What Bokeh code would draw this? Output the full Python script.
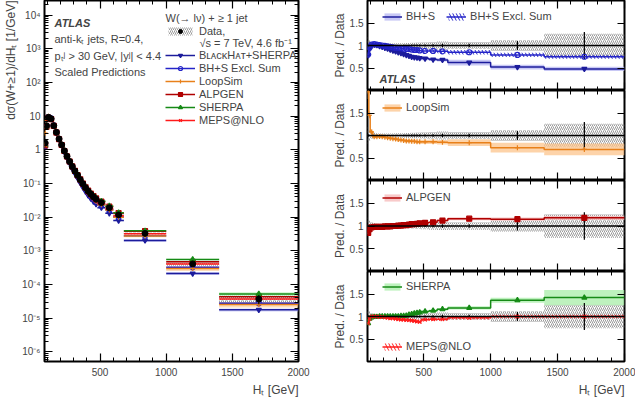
import numpy as np
from bokeh.plotting import figure
from bokeh.layouts import row, column
from bokeh.models import (Range1d, FixedTicker, CustomJSTickFormatter, LinearAxis,
                          LogAxis, Label, Legend, LegendItem, Span, Title)
from bokeh.embed import file_html
from bokeh.resources import INLINE

FONT = "Liberation Sans"

# ---------------- data ----------------
ht_edges = [80, 90, 100, 120, 140, 160, 180, 200, 220, 240, 260, 280, 300, 320, 340,
            360, 380, 400, 420, 440, 460, 480, 540, 600, 680, 1000, 1400, 2000]
data_xs = [1.6, 5.2, 9.2, 8.3, 5.2, 3.3, 2.1, 1.4, 0.93, 0.64, 0.45, 0.32, 0.235, 0.175,
           0.13, 0.098, 0.075, 0.059, 0.048, 0.040, 0.034, 0.027, 0.019, 0.0117,
           0.0033, 0.00041, 0.000037]
data_sys = [0.18, 0.12, 0.08, 0.06, 0.05, 0.045, 0.045, 0.045, 0.045, 0.045, 0.045,
            0.05, 0.05, 0.05, 0.05, 0.055, 0.055, 0.06, 0.06, 0.065, 0.065, 0.07,
            0.08, 0.09, 0.08, 0.12, 0.26]
data_stat = [0.03, 0.01, 0.01, 0.01, 0.01, 0.01, 0.01, 0.01, 0.01, 0.01, 0.01, 0.01,
             0.01, 0.01, 0.015, 0.015, 0.015, 0.02, 0.02, 0.02, 0.02, 0.02, 0.03,
             0.04, 0.04, 0.1, 0.3]

# prediction / data ratios and relative band widths
bhs = [0.78, 0.92, 1.00, 1.02, 1.01, 0.99, 0.97, 0.95, 0.93, 0.91, 0.89, 0.87, 0.85,
       0.83, 0.81, 0.79, 0.77, 0.75, 0.74, 0.73, 0.72, 0.71, 0.69, 0.68, 0.62, 0.52, 0.48]
bhs_unc = [0.06, 0.05, 0.04, 0.04, 0.04, 0.04, 0.04, 0.04, 0.04, 0.04, 0.045, 0.045,
           0.045, 0.045, 0.05, 0.05, 0.05, 0.05, 0.05, 0.05, 0.05, 0.05, 0.05, 0.05,
           0.1, 0.1, 0.1]
excl = [0.80, 0.95, 1.02, 1.03, 1.02, 1.01, 1.00, 0.99, 0.98, 0.97, 0.96, 0.95, 0.95,
        0.94, 0.93, 0.92, 0.92, 0.91, 0.90, 0.90, 0.89, 0.88, 0.88, 0.87, 0.85, 0.79, 0.75]
excl_unc = [0.06, 0.05, 0.05, 0.05, 0.05, 0.05, 0.05, 0.05, 0.05, 0.05, 0.05, 0.05,
            0.05, 0.05, 0.05, 0.05, 0.05, 0.05, 0.05, 0.05, 0.05, 0.05, 0.05, 0.05,
            0.06, 0.06, 0.06]
loop = [1.97, 1.45, 1.08, 0.97, 0.97, 0.98, 0.97, 0.96, 0.95, 0.94, 0.93, 0.92, 0.91,
        0.90, 0.89, 0.88, 0.88, 0.87, 0.87, 0.86, 0.86, 0.86, 0.86, 0.85, 0.84, 0.73, 0.69]
loop_unc = [0.08, 0.06, 0.05, 0.04, 0.04, 0.04, 0.04, 0.04, 0.04, 0.04, 0.04, 0.04,
            0.045, 0.045, 0.045, 0.045, 0.05, 0.05, 0.05, 0.05, 0.05, 0.055, 0.06, 0.06,
            0.09, 0.15, 0.19]
alp = [0.85, 0.93, 0.97, 0.98, 0.98, 0.98, 0.98, 0.99, 0.99, 0.99, 1.00, 1.00, 1.01,
       1.01, 1.02, 1.02, 1.03, 1.04, 1.04, 1.05, 1.06, 1.07, 1.08, 1.12, 1.16, 1.15, 1.18]
alp_unc = [0.04, 0.03, 0.02, 0.02, 0.02, 0.02, 0.02, 0.02, 0.02, 0.02, 0.02, 0.02,
           0.02, 0.02, 0.02, 0.02, 0.02, 0.02, 0.02, 0.02, 0.02, 0.02, 0.025, 0.025,
           0.03, 0.03, 0.04]
she = [0.85, 0.95, 0.98, 0.99, 0.99, 1.00, 1.00, 1.00, 1.00, 1.00, 1.00, 1.00, 1.00,
       1.01, 1.01, 1.02, 1.04, 1.05, 1.07, 1.08, 1.09, 1.11, 1.13, 1.16, 1.19, 1.36, 1.42]
she_unc = [0.03, 0.02, 0.02, 0.02, 0.02, 0.02, 0.02, 0.02, 0.02, 0.02, 0.02, 0.02,
           0.02, 0.02, 0.02, 0.02, 0.02, 0.02, 0.02, 0.02, 0.02, 0.02, 0.025, 0.025,
           0.03, 0.04, 0.12]
meps = [0.85, 0.95, 1.00, 1.00, 1.00, 0.99, 0.99, 0.98, 0.97, 0.96, 0.96, 0.95, 0.94,
        0.93, 0.93, 0.92, 0.92, 0.91, 0.90, 0.89, 0.88, 0.93, 0.94, 0.94, 0.97, 1.00, 1.00]
meps_unc = [0.05, 0.04, 0.04, 0.04, 0.04, 0.04, 0.04, 0.04, 0.04, 0.04, 0.04, 0.04,
            0.04, 0.04, 0.04, 0.04, 0.04, 0.04, 0.04, 0.04, 0.04, 0.04, 0.04, 0.04,
            0.04, 0.04, 0.04]

x_major = [500, 1000, 1500, 2000]
x_minor = list(range(100, 2001, 100))
ratio_ticks = [0.5, 1.0, 1.5]

# (left legend name, ratio-panel legend name, ratio, unc, colour, band colour, marker, band style)
models = [
    ("BʟᴀᴄᴋHᴀᴛ+SHERPA", "BH+S", bhs, bhs_unc, "#1c1c9c", "#b6b6f2", "inverted_triangle", "fill"),
    ("BH+S Excl. Sum", "BH+S Excl. Sum", excl, excl_unc, "#2424c8", "#2424c8", "circle", "hatch"),
    ("LoopSim", "LoopSim", loop, loop_unc, "#e8801a", "#fcc48c", "cross", "fill"),
    ("ALPGEN", "ALPGEN", alp, alp_unc, "#b00000", "#f6b8b8", "square", "fill"),
    ("SHERPA", "SHERPA", she, she_unc, "#168a16", "#a8eea8", "triangle", "fill"),
    ("MEPS@NLO", "MEPS@NLO", meps, meps_unc, "#ff1a1a", "#ff1a1a", "x", "hatch"),
]

lo = np.array(ht_edges[:-1], float)
hi = np.array(ht_edges[1:], float)
ctr = 0.5 * (lo + hi)
d = np.array(data_xs)
dsys = np.array(data_sys)
dstat = np.array(data_stat)

LOG_FMT = r"""
const e = Math.round(Math.log10(tick));
if (e == 0) return "1";
if (e == 1) return "10";
const m = {"-": "\u207b", "0": "\u2070", "1": "\u00b9", "2": "\u00b2", "3": "\u00b3",
           "4": "\u2074", "5": "\u2075", "6": "\u2076", "7": "\u2077", "8": "\u2078", "9": "\u2079"};
let s = "";
for (const c of String(e)) s += m[c];
return "10" + s;
"""
PLAIN_FMT = "return tick.toString();"
EMPTY_FMT = "return '';"
HATCH_GREY = "#808080"


def style_axis(ax, ticker, labels=True, fmt=PLAIN_FMT, minor=True, major_len=8,
               minor_len=4, standoff=4):
    ax.ticker = ticker
    ax.formatter = CustomJSTickFormatter(code=fmt if labels else EMPTY_FMT)
    ax.axis_line_color = None
    ax.major_tick_in = major_len
    ax.major_tick_out = 0
    ax.minor_tick_in = minor_len
    ax.minor_tick_out = 0
    ax.major_tick_line_width = 1.2
    ax.minor_tick_line_width = 1
    if not minor:
        ax.minor_tick_line_color = None
    ax.major_label_text_font = FONT
    if labels:
        ax.major_label_text_font_size = "10px"
        ax.major_label_standoff = standoff
    else:
        ax.major_label_text_font_size = "0px"
        ax.major_label_standoff = 0


def side_title(p, text, side, standoff):
    p.add_layout(Title(text=text, align="right", text_font=FONT, text_font_size="12px",
                       text_font_style="normal", standoff=standoff, offset=0), side)


def lab(p, x, y, text, size="11px", style="normal", align="left"):
    p.add_layout(Label(x=x, y=y, x_units="screen", y_units="screen", text=text,
                       text_font=FONT, text_font_size=size, text_font_style=style,
                       text_align=align, text_baseline="middle"))


def mk_legend(items, x, y, orientation="vertical", gw=30, gh=10, lh=13, spacing=0):
    return Legend(items=items, location=(x, y), orientation=orientation,
                  glyph_width=gw, glyph_height=gh, label_height=lh, label_standoff=4,
                  spacing=spacing, padding=0, margin=0, border_line_color=None,
                  background_fill_alpha=0, label_text_font=FONT,
                  label_text_font_size="11px")


def base_fig(w, h, yr, bl, br, bb, ylog=False):
    p = figure(width=w, height=h, x_range=Range1d(80, 2000), y_range=yr,
               y_axis_type="log" if ylog else "linear", output_backend="svg",
               toolbar_location=None, min_border_left=bl, min_border_right=br,
               min_border_top=0, min_border_bottom=bb)
    p.grid.visible = False
    p.outline_line_color = "black"
    p.outline_line_width = 2
    p.background_fill_color = "white"
    p.border_fill_color = "white"
    return p


xt = FixedTicker(ticks=x_major, minor_ticks=x_minor)

# ---------------- left: spectrum ----------------
LW, LH, LBL, LBR, LBB = 318, 398, 41, 20, 36
lfh = LH - LBB
left = base_fig(LW, LH, Range1d(5.2e-7, 2.7e4), LBL, LBR, LBB, ylog=True)
yt = FixedTicker(ticks=[10.0 ** k for k in range(-6, 5)],
                 minor_ticks=[m * 10.0 ** k for k in range(-7, 5) for m in range(2, 10)])
style_axis(left.xaxis[0], xt, standoff=6)
style_axis(left.yaxis[0], yt, fmt=LOG_FMT)
ax_top = LinearAxis()
style_axis(ax_top, xt, labels=False)
left.add_layout(ax_top, "above")
ax_right = LogAxis()
style_axis(ax_right, yt, labels=False)
left.add_layout(ax_right, "right")
side_title(left, "Hₜ [GeV]", "below", 4)
side_title(left, "dσ(W+≥1)/dHₜ [1/GeV]", "left", 3)

for name, short, rat_v, unc, col, bcol, mk, bstyle in models:
    pv = d * np.array(rat_v)
    uu = np.array(unc)
    if bstyle == "fill":
        left.quad(left=lo, right=hi, bottom=pv * (1 - uu), top=pv * (1 + uu),
                  fill_color=bcol, fill_alpha=0.6, line_color=None)
    else:
        left.quad(left=lo, right=hi, bottom=pv * (1 - uu), top=pv * (1 + uu),
                  fill_alpha=0, line_color=None, hatch_pattern="\\", hatch_color=bcol,
                  hatch_scale=6, hatch_weight=0.8, hatch_alpha=0.6)
data_band = left.quad(left=lo, right=hi, bottom=d * (1 - dsys), top=d * (1 + dsys),
                      fill_alpha=0, line_color=None, hatch_pattern="/",
                      hatch_color=HATCH_GREY, hatch_scale=4, hatch_weight=0.8)
leg_items = []
for name, short, rat_v, unc, col, bcol, mk, bstyle in models:
    pv = d * np.array(rat_v)
    sg = left.segment(x0=lo, x1=hi, y0=pv, y1=pv, line_color=col, line_width=1.5)
    fc = None if mk == "circle" else col
    sc = left.scatter(ctr, pv, marker=mk, size=5, line_color=col, fill_color=fc,
                      line_width=1.2)
    leg_items.append(LegendItem(label=name, renderers=[sg, sc]))
left.segment(x0=ctr, x1=ctr, y0=d * (1 - dstat), y1=d * (1 + dstat), line_color="black",
             line_width=1.2)
data_pts = left.scatter(ctr, d, marker="circle", size=6, color="black")

lab(left, 10, lfh - 23, "ATLAS", style="bold italic")
lab(left, 10, lfh - 39, "anti-kₜ jets, R=0.4,")
lab(left, 10, lfh - 56, "pₜʲ > 30 GeV, |yʲ| < 4.4")
lab(left, 10, lfh - 72, "Scaled Predictions")
lab(left, 121, lfh - 18, "W(→ lν) + ≥ 1 jet")
lab(left, 155, lfh - 43, "√s = 7 TeV, 4.6 fb⁻¹")

left.add_layout(mk_legend([LegendItem(label="Data,", renderers=[data_band, data_pts])],
                          121, lfh - 38.5))
left.add_layout(mk_legend(leg_items, 121, lfh - 127.5))

# ---------------- right: four ratio panels ----------------
RW, RBL, RBR = 317, 49, 11
frame_h = [90, 90, 91, 91]
panel_models = [[0, 1], [2], [3], [4, 5]]
rt = FixedTicker(ticks=ratio_ticks, minor_ticks=[])
ratio_figs = []
for k, idxs in enumerate(panel_models):
    last = (k == 3)
    bb = 36 if last else 0
    p = base_fig(RW, frame_h[k] + bb, Range1d(0, 2), RBL, RBR, bb)
    style_axis(p.xaxis[0], xt, labels=last, standoff=6)
    style_axis(p.yaxis[0], rt, minor=False, major_len=7)
    yax = p.yaxis[0]
    yax.axis_label = "Pred. / Data"
    yax.axis_label_text_font = FONT
    yax.axis_label_text_font_size = "12px"
    yax.axis_label_text_font_style = "normal"
    yax.axis_label_standoff = 0
    if last:
        side_title(p, "Hₜ [GeV]", "below", 4)
    pt = LinearAxis()
    style_axis(pt, xt, labels=False)
    p.add_layout(pt, "above")
    pr = LinearAxis()
    style_axis(pr, rt, labels=False, minor=False, major_len=7)
    p.add_layout(pr, "right")

    p.quad(left=lo, right=hi, bottom=1 - dsys, top=1 + dsys, fill_alpha=0,
           line_color=None, hatch_pattern="/", hatch_color=HATCH_GREY, hatch_scale=4,
           hatch_weight=0.8)
    bands = {}
    for i in idxs:
        name, short, rat_v, unc, col, bcol, mk, bstyle = models[i]
        rv = np.array(rat_v)
        uu = np.array(unc) * rv
        bt = np.minimum(rv + uu, 1.99)
        bo = np.maximum(rv - uu, 0.01)
        if bstyle == "fill":
            bands[i] = p.quad(left=lo, right=hi, bottom=bo, top=bt, fill_color=bcol,
                              fill_alpha=0.75, line_color=None)
        else:
            bands[i] = p.quad(left=lo, right=hi, bottom=bo, top=bt, fill_alpha=0,
                              line_color=None, hatch_pattern="\\", hatch_color=bcol,
                              hatch_scale=7, hatch_weight=1.0)
    p.add_layout(Span(location=1, dimension="width", line_color="black", line_width=1.5))
    p.segment(x0=ctr, x1=ctr, y0=1 - dstat, y1=1 + dstat, line_color="black",
              line_width=1.2)
    items = []
    for i in idxs:
        name, short, rat_v, unc, col, bcol, mk, bstyle = models[i]
        rv = np.minimum(np.array(rat_v), 1.97)
        st = p.step(x=ht_edges, y=list(rv) + [rv[-1]], mode="after", line_color=col,
                    line_width=1.5)
        fc = None if mk == "circle" else col
        p.scatter(ctr, rv, marker=mk, size=5, line_color=col, fill_color=fc,
                  line_width=1.2)
        items.append(LegendItem(label=short, renderers=[bands[i], st]))
    fh = frame_h[k]
    if k == 0:
        p.add_layout(mk_legend(items, 15, fh - 16 - 6.5, orientation="horizontal",
                               gw=20, gh=9, spacing=11))
        lab(p, 12, fh - 78, "ATLAS", style="bold italic")
    elif k == 3:
        p.add_layout(mk_legend([items[0]], 15, fh - 16 - 6.5, gw=20, gh=9))
        p.add_layout(mk_legend([items[1]], 15, fh - 76 - 6.5, gw=20, gh=9))
    else:
        p.add_layout(mk_legend([items[0]], 15, fh - 17 - 6.5, gw=20, gh=9))
    ratio_figs.append(p)

layout = row(left, column(*ratio_figs))
open("out.html", "w").write(file_html(layout, INLINE))
